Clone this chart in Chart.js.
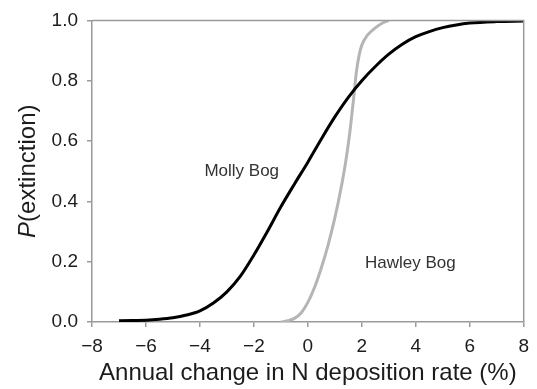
<!DOCTYPE html>
<html>
<head>
<meta charset="utf-8">
<script src="https://cdn.jsdelivr.net/npm/chart.js@4"></script>
<style>
  body { margin: 0; background: #fff; }
  #wrap { width: 537px; height: 389px; position: relative; }
</style>
</head>
<body>
<div id="wrap"><canvas id="myChart"></canvas></div>
<script>
// Molly Bog (black curve)
var mollyX = [-7, -6.5, -6, -5.5, -5, -4.5, -4, -3.5, -3, -2.5, -2, -1.5, -1, -0.5, 0, 0.5, 1, 1.5, 2, 2.5, 3, 3.5, 4, 4.5, 5, 5.5, 6, 7, 8];
var mollyP = [0.004, 0.005, 0.006, 0.009, 0.014, 0.023, 0.037, 0.063, 0.10, 0.152, 0.222, 0.30, 0.382, 0.457, 0.53, 0.607, 0.68, 0.745, 0.80, 0.847, 0.888, 0.921, 0.946, 0.963, 0.976, 0.985, 0.991, 0.996, 0.998];

// Hawley Bog (grey curve)
var hawleyX = [-1, -0.75, -0.5, -0.25, 0, 0.25, 0.5, 0.75, 1, 1.2, 1.4, 1.55, 1.7, 1.8, 1.9, 2, 2.2, 2.5, 2.8, 3];
var hawleyP = [0, 0.004, 0.012, 0.03, 0.065, 0.115, 0.18, 0.255, 0.345, 0.43, 0.53, 0.625, 0.745, 0.83, 0.885, 0.918, 0.95, 0.975, 0.993, 1.0];

// site labels, placed in data units
var siteNames = ['Molly Bog', 'Hawley Bog'];
var siteLabelX = [-2.45, 3.8];
var siteLabelY = [0.50, 0.195];

var xTicks = [-8, -6, -4, -2, 0, 2, 4, 6, 8];
var yTicks = [0, 0.2, 0.4, 0.6, 0.8, 1.0];

function toPoints(xs, ys) {
  return xs.map(function (x, i) { return { x: x, y: ys[i] }; });
}

var axisGrey = '#9a9a9a';
var textCol = '#1c1c1c';

// frame + site labels + y title with italic P
var extras = {
  id: 'extras',
  afterDraw: function (chart) {
    var c = chart.ctx, a = chart.chartArea;
    var xs = chart.scales.x, ys = chart.scales.y;
    c.save();
    c.strokeStyle = axisGrey;
    c.lineWidth = 1.5;
    c.beginPath();
    c.moveTo(a.left, a.top);
    c.lineTo(a.right, a.top);
    c.lineTo(a.right, a.bottom);
    c.stroke();

    c.fillStyle = '#333';
    c.font = '17px "Liberation Sans", Arial, sans-serif';
    c.textAlign = 'center';
    c.textBaseline = 'middle';
    siteNames.forEach(function (name, i) {
      c.fillText(name, xs.getPixelForValue(siteLabelX[i]), ys.getPixelForValue(siteLabelY[i]));
    });

    // y axis title
    var italic = 'italic 24px "Liberation Sans", Arial, sans-serif';
    var normal = '24px "Liberation Sans", Arial, sans-serif';
    c.font = italic;
    var w1 = c.measureText('P').width;
    c.font = normal;
    var w2 = c.measureText('(extinction)').width;
    c.translate(28, (a.top + a.bottom) / 2);
    c.rotate(-Math.PI / 2);
    c.fillStyle = textCol;
    c.textAlign = 'left';
    var start = -(w1 + w2) / 2;
    c.font = italic;
    c.fillText('P', start, 0);
    c.font = normal;
    c.fillText('(extinction)', start + w1, 0);
    c.restore();
  }
};

var ctx = document.getElementById('myChart');
new Chart(ctx, {
  type: 'line',
  data: {
    datasets: [{
      label: 'Molly Bog',
      data: toPoints(mollyX, mollyP),
      borderColor: '#000',
      borderWidth: 3,
      pointRadius: 0,
      cubicInterpolationMode: 'monotone'
    }, {
      label: 'Hawley Bog',
      data: toPoints(hawleyX, hawleyP),
      borderColor: '#b5b5b5',
      borderWidth: 3,
      pointRadius: 0,
      cubicInterpolationMode: 'monotone'
    }]
  },
  options: {
    responsive: true,
    maintainAspectRatio: false,
    devicePixelRatio: 1,
    animation: false,
    layout: { padding: { top: 16, right: 10, left: 0, bottom: 0 } },
    plugins: { legend: { display: false }, tooltip: { enabled: false } },
    scales: {
      x: {
        type: 'linear',
        min: -8, max: 8,
        afterFit: function (s) { s.height = 67; },
        afterBuildTicks: function (s) { s.ticks = xTicks.map(function (v) { return { value: v }; }); },
        grid: { drawOnChartArea: false, drawTicks: true, tickLength: 5, color: axisGrey, lineWidth: 1.5 },
        border: { color: axisGrey, width: 1.5 },
        ticks: {
          padding: 8,
          color: textCol,
          font: { family: '"Liberation Sans", Arial, sans-serif', size: 19 },
          maxRotation: 0,
          callback: function (v) { return v < 0 ? '\u2212' + Math.abs(v) : String(v); }
        },
        title: {
          display: true,
          text: 'Annual change in N deposition rate (%)',
          color: textCol,
          font: { family: '"Liberation Sans", Arial, sans-serif', size: 24 },
          padding: { top: 0, bottom: 1 }
        }
      },
      y: {
        min: 0, max: 1,
        afterFit: function (s) { s.width = 92; },
        afterBuildTicks: function (s) { s.ticks = yTicks.map(function (v) { return { value: v }; }); },
        grid: { drawOnChartArea: false, drawTicks: true, tickLength: 5, color: axisGrey, lineWidth: 1.5 },
        border: { color: axisGrey, width: 1.5 },
        ticks: {
          padding: 9,
          color: textCol,
          font: { family: '"Liberation Sans", Arial, sans-serif', size: 19 },
          callback: function (v) { return v.toFixed(1); }
        }
      }
    }
  },
  plugins: [extras]
});
</script>
</body>
</html>
